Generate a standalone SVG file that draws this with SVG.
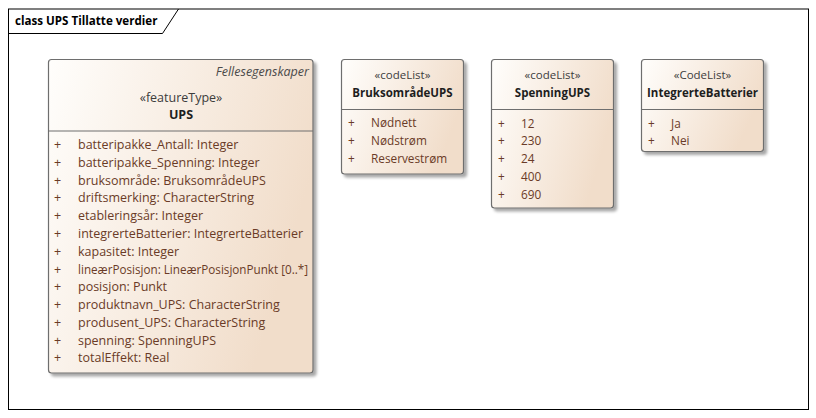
<svg xmlns="http://www.w3.org/2000/svg" width="816" height="418" viewBox="0 0 816 418">
<defs>
<linearGradient id="g" x1="0" y1="0" x2="1" y2="0.35">
<stop offset="0" stop-color="#fffefc"/>
<stop offset="1" stop-color="#f1ddca"/>
</linearGradient>
<filter id="sh" x="-10%" y="-10%" width="130%" height="130%">
<feGaussianBlur in="SourceAlpha" stdDeviation="1.5"/>
<feOffset dx="3" dy="3" result="b"/>
<feComponentTransfer><feFuncA type="linear" slope="0.35"/></feComponentTransfer>
<feMerge><feMergeNode/><feMergeNode in="SourceGraphic"/></feMerge>
</filter>
</defs>
<style>
text{font-family:"Open Sans","Noto Sans","Liberation Sans",sans-serif;font-size:11.5px}
.big text{font-size:12.5px}
.cl .at text{font-size:11.8px}
.box{fill:url(#g);stroke:#6e6e6e;stroke-width:1.2}
.div{stroke:#6e6e6e;stroke-width:1.2}
.st{fill:#3c3c3c;text-anchor:middle}
.nm{fill:#1e1e1e;font-weight:bold;text-anchor:middle}
.at{fill:#6a3b27}
.it{fill:#4a4a4a;font-style:italic;text-anchor:end}
.title{fill:#000;font-weight:bold;font-size:11.6px}
</style>
<rect width="816" height="418" fill="#fff"/>
<g id="frame">
<rect x="8.5" y="9" width="800" height="400.5" fill="none" stroke="#000" stroke-width="1"/>
<path d="M8.5 33.5 H162.5 L178.5 9" fill="none" stroke="#000" stroke-width="1"/>
<text class="title" x="15" y="25">class UPS Tillatte verdier</text>
</g>
<g id="connectors"></g>
<g id="UPS" class="big">
<rect class="box" x="48.5" y="59.5" width="264.5" height="313.5" rx="3" filter="url(#sh)"/>
<line class="div" x1="48.5" y1="131" x2="313" y2="131"/>
<text class="it" x="309" y="76">Fellesegenskaper</text>
<text class="st" x="181" y="102">«featureType»</text>
<text class="nm" x="181" y="119">UPS</text>
<g class="at">
<text x="54" y="149">+</text><text x="78" y="149">batteripakke_Antall: Integer</text>
<text x="54" y="167">+</text><text x="78" y="167">batteripakke_Spenning: Integer</text>
<text x="54" y="185">+</text><text x="78" y="185">bruksområde: BruksområdeUPS</text>
<text x="54" y="202">+</text><text x="78" y="202">driftsmerking: CharacterString</text>
<text x="54" y="220">+</text><text x="78" y="220">etableringsår: Integer</text>
<text x="54" y="238">+</text><text x="78" y="238">integrerteBatterier: IntegrerteBatterier</text>
<text x="54" y="256">+</text><text x="78" y="256">kapasitet: Integer</text>
<text x="54" y="274">+</text><text x="78" y="274" textLength="230" lengthAdjust="spacingAndGlyphs">lineærPosisjon: LineærPosisjonPunkt [0..*]</text>
<text x="54" y="291">+</text><text x="78" y="291">posisjon: Punkt</text>
<text x="54" y="309">+</text><text x="78" y="309">produktnavn_UPS: CharacterString</text>
<text x="54" y="327">+</text><text x="78" y="327">produsent_UPS: CharacterString</text>
<text x="54" y="345">+</text><text x="78" y="345">spenning: SpenningUPS</text>
<text x="54" y="362">+</text><text x="78" y="362">totalEffekt: Real</text>
</g>
</g>
<g id="BruksomradeUPS" class="cl">
<rect class="box" x="341.5" y="59.5" width="122" height="114.5" rx="3" filter="url(#sh)"/>
<line class="div" x1="341.5" y1="109.5" x2="463.5" y2="109.5"/>
<text class="st" x="402.5" y="79">«codeList»</text>
<text class="nm" x="402.5" y="97">BruksområdeUPS</text>
<g class="at">
<text x="348" y="127">+</text><text x="371" y="127">Nødnett</text>
<text x="348" y="145">+</text><text x="371" y="145">Nødstrøm</text>
<text x="348" y="163">+</text><text x="371" y="163">Reservestrøm</text>
</g>
</g>
<g id="SpenningUPS" class="cl">
<rect class="box" x="491.5" y="59.5" width="122" height="148.5" rx="3" filter="url(#sh)"/>
<line class="div" x1="491.5" y1="109.5" x2="613.5" y2="109.5"/>
<text class="st" x="552.5" y="79">«codeList»</text>
<text class="nm" x="552.5" y="97">SpenningUPS</text>
<g class="at">
<text x="498" y="128">+</text><text x="521" y="128">12</text>
<text x="498" y="145">+</text><text x="521" y="145">230</text>
<text x="498" y="163">+</text><text x="521" y="163">24</text>
<text x="498" y="181">+</text><text x="521" y="181">400</text>
<text x="498" y="199">+</text><text x="521" y="199">690</text>
</g>
</g>
<g id="IntegrerteBatterier" class="cl">
<rect class="box" x="641.5" y="59.5" width="122" height="92" rx="3" filter="url(#sh)"/>
<line class="div" x1="641.5" y1="109.5" x2="763.5" y2="109.5"/>
<text class="st" x="702.5" y="79">«CodeList»</text>
<text class="nm" x="702.5" y="97">IntegrerteBatterier</text>
<g class="at">
<text x="648" y="128">+</text><text x="671" y="128">Ja</text>
<text x="648" y="145">+</text><text x="671" y="145">Nei</text>
</g>
</g>
</svg>
